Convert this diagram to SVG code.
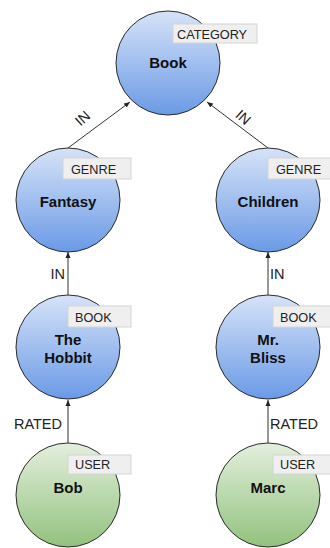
<svg xmlns="http://www.w3.org/2000/svg" width="330" height="548" viewBox="0 0 330 548">
<style>
.blue{fill:url(#gb);stroke:#2b2b2b;stroke-width:1}
.green{fill:url(#gg);stroke:#2b2b2b;stroke-width:1}
.name{font-family:"Liberation Sans",Arial,sans-serif;font-size:15px;font-weight:bold;fill:#111;text-anchor:middle}
.tagbox{fill:#efefef;stroke:#d4d4d4;stroke-width:1}
.tag{font-family:"Liberation Sans",Arial,sans-serif;font-size:12.7px;fill:#222}
.edge{stroke:#333;stroke-width:1;fill:none;marker-end:url(#arr)}
.elab{font-family:"Liberation Sans",Arial,sans-serif;font-size:14.5px;fill:#222}
</style>
<defs>
<linearGradient id="gb" x1="0" y1="0" x2="0" y2="1">
<stop offset="0" stop-color="#d6e3f8"/>
<stop offset="1" stop-color="#6a9ae6"/>
</linearGradient>
<linearGradient id="gg" x1="0" y1="0" x2="0" y2="1">
<stop offset="0" stop-color="#e3efdd"/>
<stop offset="1" stop-color="#92c27d"/>
</linearGradient>
<marker id="arr" markerWidth="6" markerHeight="6" refX="6" refY="3" orient="auto" markerUnits="userSpaceOnUse">
<path d="M0,0.5 L6,3 L0,5.5 Z" fill="#222"/>
</marker>
</defs>
<rect width="330" height="548" fill="#fff"/>
<g id="connectors">
<line class="edge" x1="68" y1="148" x2="130" y2="102"/>
<line class="edge" x1="268" y1="148" x2="207" y2="102"/>
<line class="edge" x1="68" y1="295" x2="68" y2="252"/>
<line class="edge" x1="268" y1="295" x2="268" y2="252"/>
<line class="edge" x1="68" y1="443" x2="68" y2="400"/>
<line class="edge" x1="268" y1="443" x2="268" y2="400"/>
<text class="elab" text-anchor="middle" transform="translate(86,122) rotate(-42)">IN</text>
<text class="elab" text-anchor="middle" transform="translate(240,121) rotate(42)">IN</text>
<text class="elab" x="65" y="279" text-anchor="end">IN</text>
<text class="elab" x="270" y="279">IN</text>
<text class="elab" x="62" y="429" text-anchor="end">RATED</text>
<text class="elab" x="270" y="429">RATED</text>
</g>
<g id="book">
<circle class="blue" cx="168" cy="63" r="52"/>
<rect class="tagbox" x="173" y="24" width="84" height="19"/>
<text class="tag" x="177" y="38.5">CATEGORY</text>
<text class="name" x="168" y="68">Book</text>
</g>
<g id="fantasy">
<circle class="blue" cx="68" cy="200" r="52"/>
<rect class="tagbox" x="63" y="158" width="68" height="21"/>
<text class="tag" x="71" y="174">GENRE</text>
<text class="name" x="68" y="207">Fantasy</text>
</g>
<g id="children">
<circle class="blue" cx="268" cy="200" r="52"/>
<rect class="tagbox" x="268" y="158" width="68" height="21"/>
<text class="tag" x="276" y="174">GENRE</text>
<text class="name" x="268" y="207">Children</text>
</g>
<g id="hobbit">
<circle class="blue" cx="68" cy="347" r="52"/>
<rect class="tagbox" x="68" y="306" width="63" height="21"/>
<text class="tag" x="75" y="321.5">BOOK</text>
<text class="name" x="68" y="345">The</text>
<text class="name" x="68" y="362.5">Hobbit</text>
</g>
<g id="mrbliss">
<circle class="blue" cx="268" cy="347" r="52"/>
<rect class="tagbox" x="273" y="306" width="63" height="21"/>
<text class="tag" x="280" y="321.5">BOOK</text>
<text class="name" x="268" y="345">Mr.</text>
<text class="name" x="268" y="362.5">Bliss</text>
</g>
<g id="bob">
<circle class="green" cx="68" cy="495" r="52"/>
<rect class="tagbox" x="68" y="455" width="63" height="19"/>
<text class="tag" x="75" y="469">USER</text>
<text class="name" x="68" y="493">Bob</text>
</g>
<g id="marc">
<circle class="green" cx="268" cy="495" r="52"/>
<rect class="tagbox" x="273" y="455" width="63" height="19"/>
<text class="tag" x="280" y="469">USER</text>
<text class="name" x="268" y="493">Marc</text>
</g>
</svg>
